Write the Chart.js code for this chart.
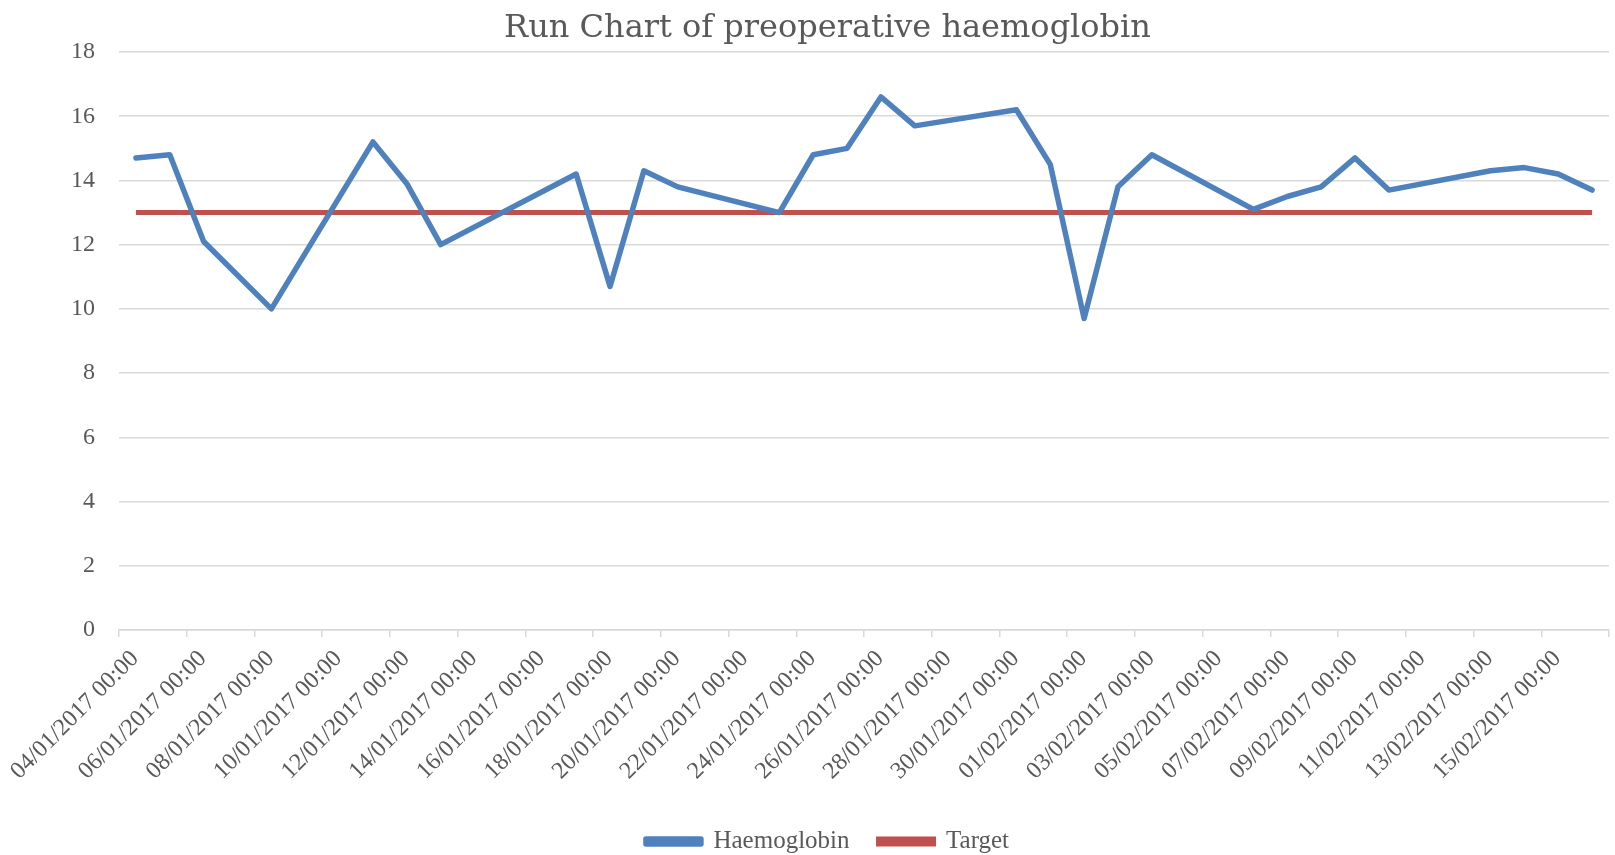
<!DOCTYPE html>
<html>
<head>
<meta charset="utf-8">
<script src="https://cdn.jsdelivr.net/npm/chart.js@4.4.1/dist/chart.umd.min.js"></script>
<style>
  html, body { margin: 0; padding: 0; background: #ffffff; }
  #wrap { width: 1615px; height: 855px; position: relative; }
</style>
</head>
<body>
<div id="wrap"><canvas id="runChart"></canvas></div>
<script>
// Run chart - preoperative haemoglobin vs target

const chartTitle = 'Run Chart of preoperative haemoglobin';
const axisStart = '2017-01-04';   // first day on the date axis
const axisDays = 44;              // 04/01 .. 16/02, one slot per day
const tickEvery = 2;              // label every 2nd day

const sampleDates = [
  '2017-01-04', '2017-01-05', '2017-01-06', '2017-01-08', '2017-01-11',
  '2017-01-12', '2017-01-13', '2017-01-17', '2017-01-18', '2017-01-19',
  '2017-01-20', '2017-01-23', '2017-01-24', '2017-01-25', '2017-01-26',
  '2017-01-27', '2017-01-30', '2017-01-31', '2017-02-01', '2017-02-02',
  '2017-02-03', '2017-02-06', '2017-02-07', '2017-02-08', '2017-02-09',
  '2017-02-10', '2017-02-13', '2017-02-14', '2017-02-15', '2017-02-16'
];
const haemoglobin = [
  14.7, 14.8, 12.1, 10.0, 15.2,
  13.9, 12.0, 14.2, 10.7, 14.3,
  13.8, 13.0, 14.8, 15.0, 16.6,
  15.7, 16.2, 14.5, 9.7, 13.8,
  14.8, 13.1, 13.5, 13.8, 14.7,
  13.7, 14.3, 14.4, 14.2, 13.7
];
const target = [
  13, 13, 13, 13, 13,
  13, 13, 13, 13, 13,
  13, 13, 13, 13, 13,
  13, 13, 13, 13, 13,
  13, 13, 13, 13, 13,
  13, 13, 13, 13, 13
];

const DAY = 86400000;
const startMs = Date.parse(axisStart + 'T00:00:00Z');

// day slot centre, like Excel's "between tick marks" date axis
function dayPos(iso) {
  return (Date.parse(iso + 'T00:00:00Z') - startMs) / DAY + 0.5;
}

function fmtTick(v) {
  if (v >= axisDays) return '';
  const d = new Date(startMs + v * DAY);
  const dd = String(d.getUTCDate()).padStart(2, '0');
  const mm = String(d.getUTCMonth() + 1).padStart(2, '0');
  return `${dd}/${mm}/${d.getUTCFullYear()} 00:00`;
}

const serif = '"Liberation Serif", serif';
const titleFont = '"DejaVu Serif", serif';
const textColor = '#595959';
const gridColor = '#d9d9d9';

new Chart(document.getElementById('runChart').getContext('2d'), {
  type: 'line',
  data: {
    datasets: [
      {
        label: 'Haemoglobin',
        data: sampleDates.map((d, i) => ({ x: dayPos(d), y: haemoglobin[i] })),
        borderColor: '#4f81bd',
        backgroundColor: '#4f81bd',
        borderWidth: 5.5,
        borderJoinStyle: 'round',
        borderCapStyle: 'round',
        pointRadius: 0,
        tension: 0
      },
      {
        label: 'Target',
        data: sampleDates.map((d, i) => ({ x: dayPos(d), y: target[i] })),
        borderColor: '#c0504d',
        backgroundColor: '#c0504d',
        borderWidth: 5,
        borderCapStyle: 'butt',
        pointRadius: 0,
        tension: 0
      }
    ]
  },
  options: {
    responsive: true,
    maintainAspectRatio: false,
    animation: false,
    layout: { padding: { left: 46, right: 6, top: 0, bottom: -9 } },
    plugins: {
      title: {
        display: true,
        text: chartTitle,
        color: textColor,
        font: { family: titleFont, size: 32, weight: 'normal' },
        padding: { top: 9.5, bottom: 4.1 }
      },
      legend: {
        position: 'bottom',
        labels: {
          color: textColor,
          font: { family: serif, size: 25 },
          boxWidth: 55,
          boxHeight: 5,
          padding: 29
        }
      },
      tooltip: { enabled: false }
    },
    scales: {
      x: {
        type: 'linear',
        min: 0,
        max: axisDays,
        afterFit: (scale) => {
          scale.height = 170;
          scale.paddingLeft = 0;
          scale.paddingRight = 0;
        },
        grid: {
          drawOnChartArea: false,
          drawTicks: true,
          tickLength: 7,
          color: gridColor,
          lineWidth: 1.5
        },
        border: { color: gridColor, width: 1.5 },
        ticks: {
          stepSize: tickEvery,
          autoSkip: false,
          minRotation: 45,
          maxRotation: 45,
          labelOffset: 16,
          color: textColor,
          font: { family: serif, size: 24 },
          padding: 8,
          callback: (v) => fmtTick(v)
        }
      },
      y: {
        min: 0,
        max: 18,
        afterFit: (scale) => { scale.width = 73; },
        grid: {
          color: gridColor,
          lineWidth: 1.5,
          drawTicks: false
        },
        border: { display: false },
        ticks: {
          stepSize: 2,
          color: textColor,
          font: { family: serif, size: 24 },
          padding: 24
        }
      }
    }
  }
});
</script>
</body>
</html>
